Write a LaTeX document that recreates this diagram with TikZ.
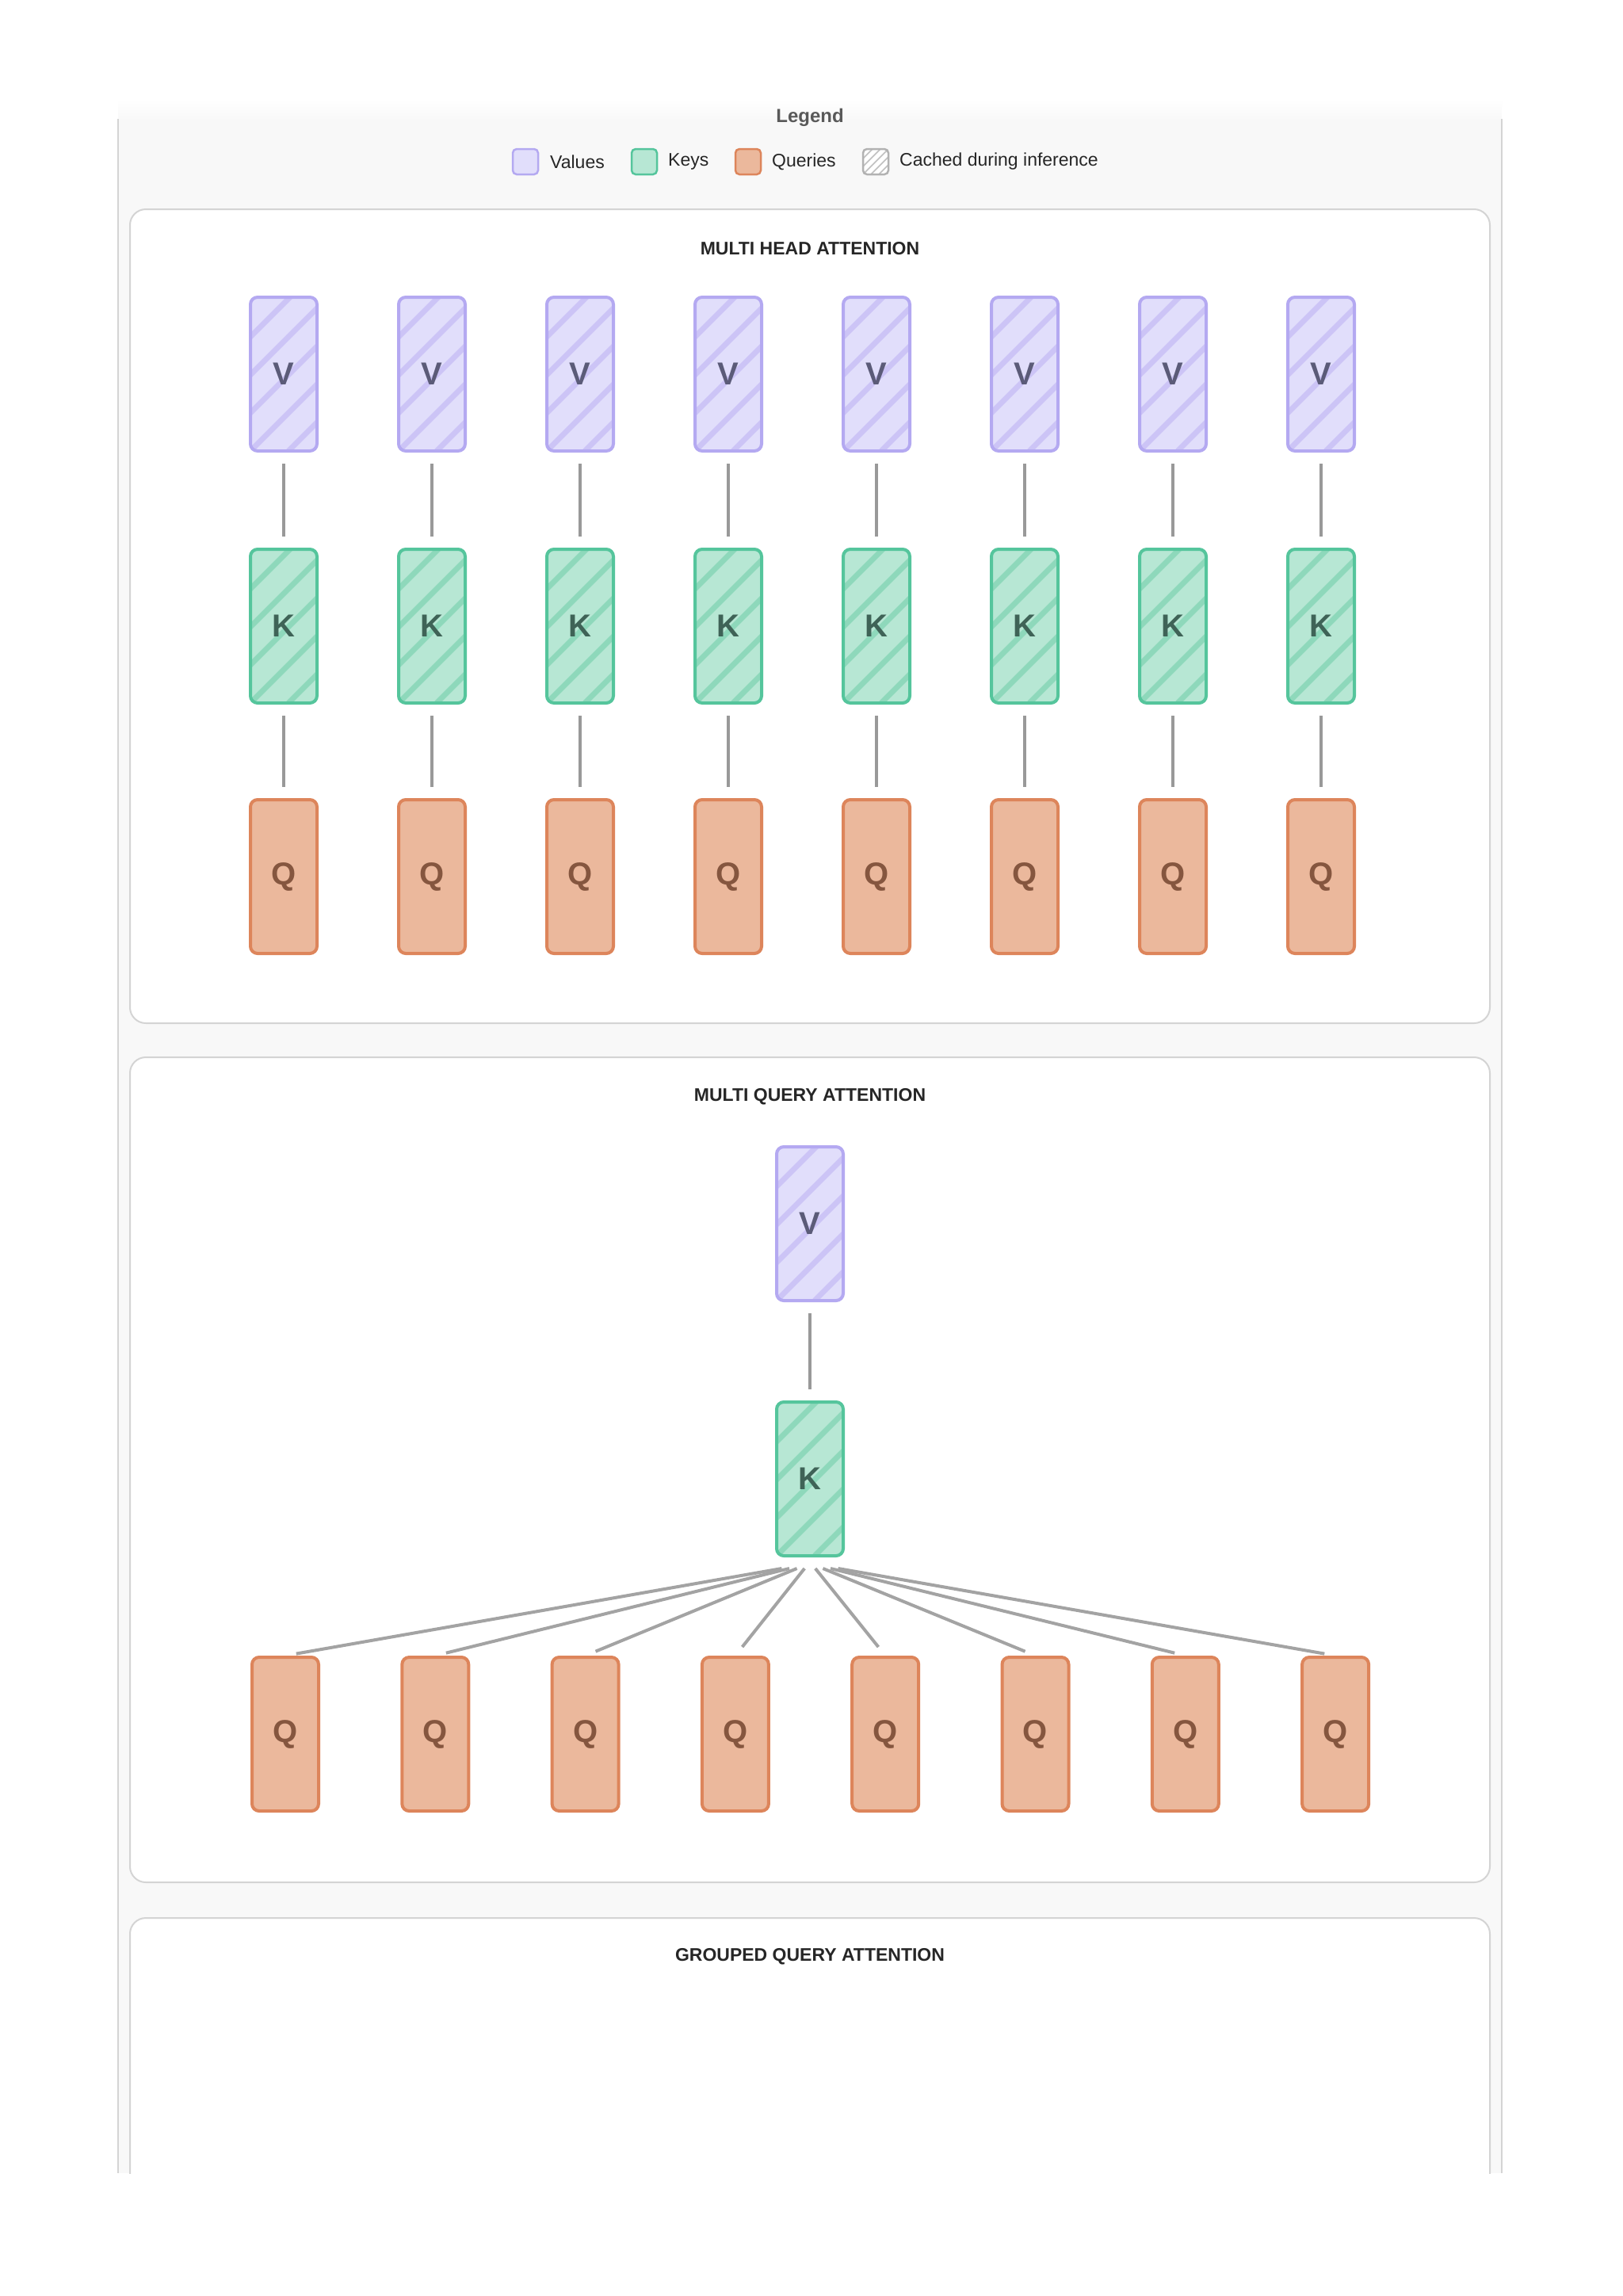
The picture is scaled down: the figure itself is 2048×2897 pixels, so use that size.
\documentclass[tikz,border=0pt]{standalone}
\usepackage{fontspec}
\setmainfont{Liberation Sans}
\definecolor{vfill}{HTML}{E1DEFB}\definecolor{vdraw}{HTML}{B4A9F1}\definecolor{vhatch}{HTML}{CCC4F6}
\definecolor{kfill}{HTML}{B7E7D4}\definecolor{kdraw}{HTML}{55C59C}\definecolor{khatch}{HTML}{8ED8BB}
\definecolor{qfill}{HTML}{EBB89C}\definecolor{qdraw}{HTML}{DD855B}
\definecolor{vtext}{HTML}{5B5B78}\definecolor{ktext}{HTML}{3F6357}\definecolor{qtext}{HTML}{85563F}
\definecolor{panelbg}{HTML}{F8F8F8}\definecolor{panelline}{HTML}{D4D4D4}\definecolor{conn}{HTML}{999999}
\tikzset{
  blk/.style={rounded corners=9pt, minimum width=84pt, minimum height=194pt, line width=4pt, draw, inner sep=0pt, font=\fontsize{40}{40}\selectfont\bfseries},
  hatch/.style={path picture={\foreach \k in {-8,...,8} \draw[line width=7pt,#1] ([xshift=\k*48pt]path picture bounding box.south west) -- ++(300,-300);}},
  vblk/.style={blk, fill=vfill, draw=vdraw, text=vtext, hatch=vhatch},
  kblk/.style={blk, fill=kfill, draw=kdraw, text=ktext, hatch=khatch},
  qblk/.style={blk, fill=qfill, draw=qdraw, text=qtext},
  conline/.style={draw=conn, line width=4pt, shorten <=14pt, shorten >=14pt},
  fanline/.style={draw=conn!90, line width=4pt, shorten >=14pt},
  title/.style={font=\fontsize{23}{26}\selectfont\bfseries, text=black!85, inner sep=0pt},
  legtxt/.style={font=\fontsize{23}{26}\selectfont, text=black!85, anchor=west, inner sep=0pt},
  swatch/.style={rounded corners=5pt, line width=2.5pt, minimum width=32pt, minimum height=32pt, draw, inner sep=0pt},
  panel/.style={draw=panelline, line width=2pt, fill=white, rounded corners=20pt}
}
\begin{document}
\begin{tikzpicture}[x=1pt,y=-1pt]
\useasboundingbox (0,0) rectangle (2048,2897);
\fill[white] (0,0) rectangle (2048,2897);
% outer panel
\fill[panelbg] (149,150) rectangle (1895,2742);
\shade[top color=white, bottom color=panelbg] (149,125) rectangle (1895,151);
\draw[panelline, line width=2pt] (149,150) -- (149,2742) (1895,150) -- (1895,2742);
% legend
\node[font=\fontsize{24}{26}\selectfont\bfseries, text=black!65] (legtitle) at (1022,148) {Legend};
\node[swatch, fill=vfill, draw=vdraw] (sv) at (663,204) {};
\node[legtxt] (tv) at (694,204) {Values};
\node[swatch, fill=kfill, draw=kdraw] (sk) at (813,204) {};
\node[legtxt] (tk) at (843,204) {Keys};
\node[swatch, fill=qfill, draw=qdraw] (sq) at (944,204) {};
\node[legtxt] (tq) at (974,204) {Queries};
\node[swatch, fill=white, draw=black!30, path picture={\foreach \k in {-3,...,3} \draw[black!25, line width=1.5pt] ([xshift=\k*10pt]path picture bounding box.south west) -- ++(40,-40);}] (sc) at (1105,204) {};
\node[legtxt] (tc) at (1135,204) {Cached during inference};
% panels
\draw[panel] (164,264) rectangle (1880,1291);
\draw[panel] (164,1334) rectangle (1880,2375);
\begin{scope}
\clip (150,2400) rectangle (1894,2742);
\draw[panel] (164,2420) rectangle (1880,2800);
\end{scope}
\node[title] (t1) at (1022,314) {MULTI HEAD ATTENTION};
\node[title] (t2) at (1022,1384) {MULTI QUERY ATTENTION};
\node[title] (t3) at (1022,2469) {GROUPED QUERY ATTENTION};
% MHA
\foreach \i in {0,...,7} {
  \pgfmathsetmacro{\xx}{358+187*\i}
  \node[vblk] (v\i) at (\xx,472) {V};
  \node[kblk] (k\i) at (\xx,790) {K};
  \node[qblk] (q\i) at (\xx,1106) {Q};
  \draw[conline] (v\i) -- (k\i);
  \draw[conline] (k\i) -- (q\i);
}
% MQA
\node[vblk] (mv) at (1022,1544) {V};
\node[kblk] (mk) at (1022,1866) {K};
\draw[conline] (mv) -- (mk);
\foreach \i in {0,...,7} {
  \pgfmathsetmacro{\xx}{360+189.3*\i}
  \pgfmathsetmacro{\fs}{(\i-3.5)*9.6+(\i<4?-2:2)}
  \node[qblk] (mq\i) at (\xx,2188) {Q};
  \coordinate (f\i) at ([xshift=\fs pt, yshift=-14pt]mk.south);
  \draw[fanline] (f\i) -- (mq\i.north);
}
\end{tikzpicture}
\end{document}
